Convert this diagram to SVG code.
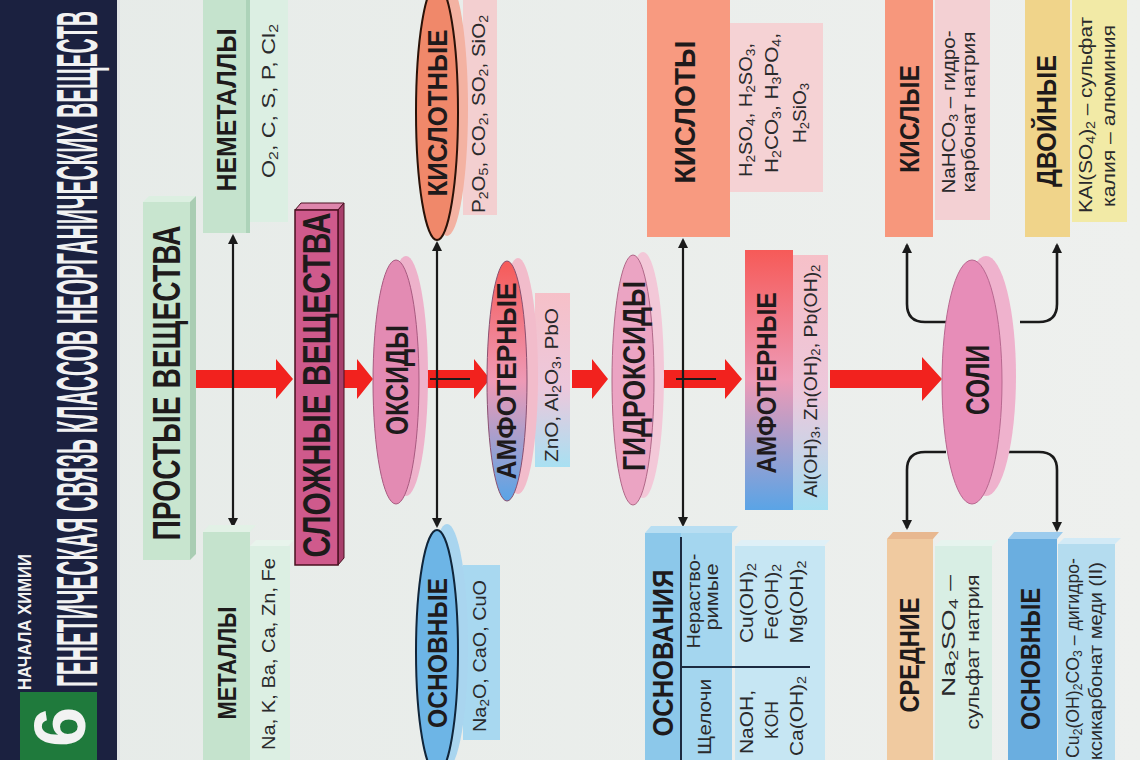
<svg xmlns="http://www.w3.org/2000/svg" width="1140" height="760" viewBox="0 0 1140 760">
<style>
.h{font-family:"Liberation Sans Narrow","Liberation Sans",Arial,sans-serif;font-weight:bold;fill:#1e1a1b;text-anchor:middle;dominant-baseline:central}
.f{font-family:"Liberation Sans Narrow","Liberation Sans",Arial,sans-serif;fill:#2a2a2c;text-anchor:middle;dominant-baseline:central;font-size:19px}
.s{font-size:13px}
.w{font-family:"Liberation Sans Narrow","Liberation Sans",Arial,sans-serif;font-weight:bold;fill:#f2f2f2;dominant-baseline:central}
.ra{fill:#f2221e}
.vl{stroke:#1a1a1a;stroke-width:2.2;fill:none;marker-start:url(#ah);marker-end:url(#ah)}
.cn{stroke:#1a1a1a;stroke-width:2.6;fill:none;marker-end:url(#ah)}
.dv{stroke:#1c2a40;stroke-width:2}
</style>
<defs>
<marker id="ah" viewBox="0 0 10 10" refX="8" refY="5" markerWidth="10" markerHeight="10" markerUnits="userSpaceOnUse" orient="auto-start-reverse"><path d="M0,0 L10,5 L0,10 z" fill="#1a1a1a"/></marker>
<linearGradient id="gA" x1="0" y1="0" x2="0" y2="1"><stop offset="0" stop-color="#f65a58"/><stop offset="0.5" stop-color="#ee9ab6"/><stop offset="1" stop-color="#5aa4e6"/></linearGradient>
<linearGradient id="gAs" x1="0" y1="0" x2="0" y2="1"><stop offset="0" stop-color="#f6c0c8"/><stop offset="0.55" stop-color="#ecc8dc"/><stop offset="1" stop-color="#a8e0f2"/></linearGradient>
<linearGradient id="bg" x1="0" y1="0" x2="1" y2="0"><stop offset="0" stop-color="#e6ebe8"/><stop offset="1" stop-color="#eef0ee"/></linearGradient>
</defs>
<rect x="0" y="0" width="1140" height="760" fill="url(#bg)"/>
<g id="header">
<rect x="0" y="0" width="118" height="760" fill="#1b2140"/>
<rect x="117" y="0" width="3" height="760" fill="#dfe4e6"/>
<rect x="20" y="692" width="77" height="68" fill="#1f7a3c"/>
<text class="w" transform="translate(60,727) rotate(-90)" text-anchor="middle" font-size="72">6</text>
<text class="w" transform="translate(24,690) rotate(-90)" text-anchor="start" font-size="19" textLength="136" lengthAdjust="spacingAndGlyphs">НАЧАЛА ХИМИИ</text>
<text class="w" transform="translate(77,687) rotate(-90) scale(0.35,1)" text-anchor="start" font-size="58" textLength="1931" lengthAdjust="spacingAndGlyphs">ГЕНЕТИЧЕСКАЯ СВЯЗЬ КЛАССОВ НЕОРГАНИЧЕСКИХ ВЕЩЕСТВ</text>
</g>
<g id="connectors">
<polygon class="ra" points="190,370 276,370 276,359 293,379 276,399 276,388 190,388"/>
<polygon class="ra" points="342,370 357,370 357,359 373,379 357,399 357,388 342,388"/>
<polygon class="ra" points="424,370 474,370 474,359 490,379 474,399 474,388 424,388"/>
<polygon class="ra" points="572,370 592,370 592,359 608,379 592,399 592,388 572,388"/>
<polygon class="ra" points="660,370 725,370 725,359 742,379 725,399 725,388 660,388"/>
<polygon class="ra" points="830,370 922,370 922,357 942,379 922,401 922,388 830,388"/>
<line x1="430" y1="379" x2="470" y2="379" stroke="#1a1a1a" stroke-width="2"/>
<line x1="676" y1="379" x2="716" y2="379" stroke="#1a1a1a" stroke-width="2"/>
<line class="vl" x1="233" y1="236" x2="233" y2="526"/>
<line class="vl" x1="437" y1="243" x2="437" y2="526"/>
<line class="vl" x1="683" y1="240" x2="683" y2="525"/>
<path class="cn" d="M947,322 H925 Q907,322 907,304 V245"/>
<path class="cn" d="M1020,322 H1039 Q1057,322 1057,304 V245"/>
<path class="cn" d="M946,452 H925 Q907,452 907,470 V528"/>
<path class="cn" d="M1004,452 H1039 Q1057,452 1057,470 V530"/>
</g>
<g id="prostye">
<polygon points="143,202 149,196 196,196 190,202" fill="#dcefe1"/>
<polygon points="190,202 196,196 196,554 190,560" fill="#a9cdb3"/>
<rect x="143" y="202" width="47" height="358" fill="#c8e5cf"/>
<text class="h" transform="translate(167,383) rotate(-90)" font-size="38" textLength="315" lengthAdjust="spacingAndGlyphs">ПРОСТЫЕ ВЕЩЕСТВА</text>
</g>
<g id="nemetally">
<rect x="250" y="0" width="38" height="222" fill="#dcefe3"/>
<rect x="203" y="0" width="47" height="233" fill="#c5e3cd"/>
<rect x="246" y="0" width="4" height="233" fill="#add3b9"/>
<text class="h" transform="translate(227,110) rotate(-90)" font-size="27" textLength="163" lengthAdjust="spacingAndGlyphs">НЕМЕТАЛЛЫ</text>
<text class="f" transform="translate(268,101) rotate(-90)" textLength="154" lengthAdjust="spacingAndGlyphs">O<tspan class="s" dy="5">2</tspan><tspan dy="-5">, C, S, P, Cl</tspan><tspan class="s" dy="5">2</tspan></text>
</g>
<g id="metally">
<polygon points="250,546 256,540 294,540 288,546" fill="#e8f4ec"/>
<rect x="250" y="546" width="40" height="214" fill="#dcefe3"/>
<polygon points="203,532 209,525 256,525 250,532" fill="#e2f1e6"/>
<rect x="203" y="532" width="47" height="228" fill="#c5e3cd"/>
<text class="h" transform="translate(227,663) rotate(-90)" font-size="26" textLength="113" lengthAdjust="spacingAndGlyphs">МЕТАЛЛЫ</text>
<text class="f" transform="translate(268,654) rotate(-90)" textLength="192" lengthAdjust="spacingAndGlyphs">Na, K, Ba, Ca, Zn, Fe</text>
</g>
<g id="slozhnye">
<polygon points="295,210 301,203 344,203 338,210" fill="#de86ac" stroke="#4a1020" stroke-width="1"/>
<polygon points="338,210 344,203 344,558 338,565" fill="#a8406c" stroke="#4a1020" stroke-width="1"/>
<rect x="295" y="210" width="43" height="355" fill="#cf5a8c" stroke="#4a1020" stroke-width="1.5"/>
<text class="h" transform="translate(317,385) rotate(-90)" font-size="38" textLength="345" lengthAdjust="spacingAndGlyphs">СЛОЖНЫЕ ВЕЩЕСТВА</text>
</g>
<g id="oksidy">
<ellipse cx="406" cy="376" rx="22" ry="120" fill="#eeb2cb"/>
<ellipse cx="396" cy="382" rx="23" ry="122" fill="#e38bb3" stroke="#a85a80" stroke-width="1"/>
<text class="h" transform="translate(397,380) rotate(-90)" font-size="32" textLength="110" lengthAdjust="spacingAndGlyphs">ОКСИДЫ</text>
</g>
<g id="kislotnye">
<rect x="463" y="0" width="34" height="215" fill="#f3cfd0"/>
<ellipse cx="447" cy="108" rx="21" ry="128" fill="#f3b2a2"/>
<ellipse cx="437" cy="112" rx="21" ry="128" fill="#f0886a" stroke="#2a1208" stroke-width="2"/>
<text class="h" transform="translate(438,113) rotate(-90)" font-size="27" textLength="167" lengthAdjust="spacingAndGlyphs">КИСЛОТНЫЕ</text>
<text class="f" transform="translate(478,114) rotate(-90)" textLength="198" lengthAdjust="spacingAndGlyphs">P<tspan class="s" dy="5">2</tspan><tspan dy="-5">O</tspan><tspan class="s" dy="5">5</tspan><tspan dy="-5">, CO</tspan><tspan class="s" dy="5">2</tspan><tspan dy="-5">, SO</tspan><tspan class="s" dy="5">2</tspan><tspan dy="-5">, SiO</tspan><tspan class="s" dy="5">2</tspan></text>
</g>
<g id="osnovnye-oksidy">
<rect x="463" y="565" width="37" height="175" fill="#a8d8f0"/>
<ellipse cx="447" cy="646" rx="21" ry="122" fill="#a9d5ef"/>
<ellipse cx="437" cy="652" rx="21" ry="122" fill="#6db5e6" stroke="#10253a" stroke-width="2"/>
<text class="h" transform="translate(438,653) rotate(-90)" font-size="27" textLength="150" lengthAdjust="spacingAndGlyphs">ОСНОВНЫЕ</text>
<text class="f" transform="translate(479,656) rotate(-90)" textLength="152" lengthAdjust="spacingAndGlyphs">Na<tspan class="s" dy="5">2</tspan><tspan dy="-5">O, CaO, CuO</tspan></text>
</g>
<g id="amfoternye-oksidy">
<rect x="535" y="293" width="35" height="174" fill="url(#gAs)"/>
<ellipse cx="518" cy="376" rx="20" ry="118" fill="#f2bccb"/>
<ellipse cx="507" cy="381" rx="20" ry="120" fill="url(#gA)" stroke="#8a5070" stroke-width="1"/>
<text class="h" transform="translate(507,381) rotate(-90)" font-size="27" textLength="197" lengthAdjust="spacingAndGlyphs">АМФОТЕРНЫЕ</text>
<text class="f" transform="translate(551,385) rotate(-90)" textLength="154" lengthAdjust="spacingAndGlyphs">ZnO, Al<tspan class="s" dy="5">2</tspan><tspan dy="-5">O</tspan><tspan class="s" dy="5">3</tspan><tspan dy="-5">, PbO</tspan></text>
</g>
<g id="gidroksidy">
<ellipse cx="643" cy="375" rx="21" ry="123" fill="#f3c8d8"/>
<ellipse cx="633" cy="380" rx="21" ry="125" fill="#eba4c3" stroke="#b06888" stroke-width="1"/>
<text class="h" transform="translate(634,376) rotate(-90)" font-size="32" textLength="190" lengthAdjust="spacingAndGlyphs">ГИДРОКСИДЫ</text>
</g>
<g id="kisloty">
<rect x="730" y="23" width="93" height="169" fill="#f5d2d4"/>
<rect x="647" y="0" width="83" height="237" fill="#f89a80"/>
<text class="h" transform="translate(684,112) rotate(-90)" font-size="30" textLength="143" lengthAdjust="spacingAndGlyphs">КИСЛОТЫ</text>
<text class="f" transform="translate(745,110) rotate(-90)" textLength="134" lengthAdjust="spacingAndGlyphs">H<tspan class="s" dy="5">2</tspan><tspan dy="-5">SO</tspan><tspan class="s" dy="5">4</tspan><tspan dy="-5">, H</tspan><tspan class="s" dy="5">2</tspan><tspan dy="-5">SO</tspan><tspan class="s" dy="5">3</tspan><tspan dy="-5">,</tspan></text>
<text class="f" transform="translate(771,103) rotate(-90)" textLength="140" lengthAdjust="spacingAndGlyphs">H<tspan class="s" dy="5">2</tspan><tspan dy="-5">CO</tspan><tspan class="s" dy="5">3</tspan><tspan dy="-5">, H</tspan><tspan class="s" dy="5">3</tspan><tspan dy="-5">PO</tspan><tspan class="s" dy="5">4</tspan><tspan dy="-5">,</tspan></text>
<text class="f" transform="translate(799,113) rotate(-90)" textLength="60" lengthAdjust="spacingAndGlyphs">H<tspan class="s" dy="5">2</tspan><tspan dy="-5">SiO</tspan><tspan class="s" dy="5">3</tspan></text>
</g>
<g id="osnovaniya">
<polygon points="735,546 741,540 830,540 824,546" fill="#dff0f7"/>
<rect x="735" y="546" width="90" height="214" fill="#c6e6f3"/>
<polygon points="645,533 651,526 738,526 732,533" fill="#b8def2"/>
<rect x="645" y="533" width="87" height="227" fill="#8cc8ea"/>
<rect x="681" y="533" width="51" height="227" fill="#a4d6ef"/>
<line class="dv" x1="681" y1="537" x2="681" y2="760"/>
<line class="dv" x1="681" y1="667" x2="810" y2="667"/>
<text class="h" transform="translate(662,653) rotate(-90)" font-size="30" textLength="167" lengthAdjust="spacingAndGlyphs">ОСНОВАНИЯ</text>
<text class="f" transform="translate(693,601) rotate(-90)" textLength="95" lengthAdjust="spacingAndGlyphs">Нераство-</text>
<text class="f" transform="translate(711,597) rotate(-90)" textLength="67" lengthAdjust="spacingAndGlyphs">римые</text>
<text class="f" transform="translate(704,717) rotate(-90)" textLength="76" lengthAdjust="spacingAndGlyphs" fill="#3a4a60">Щелочи</text>
<text class="f" transform="translate(746,603) rotate(-90)" textLength="80" lengthAdjust="spacingAndGlyphs">Cu(OH)<tspan class="s" dy="5">2</tspan></text>
<text class="f" transform="translate(771,602) rotate(-90)" textLength="76" lengthAdjust="spacingAndGlyphs">Fe(OH)<tspan class="s" dy="5">2</tspan></text>
<text class="f" transform="translate(796,602) rotate(-90)" textLength="83" lengthAdjust="spacingAndGlyphs">Mg(OH)<tspan class="s" dy="5">2</tspan></text>
<text class="f" transform="translate(746,722) rotate(-90)" textLength="64" lengthAdjust="spacingAndGlyphs">NaOH,</text>
<text class="f" transform="translate(771,720) rotate(-90)" textLength="38" lengthAdjust="spacingAndGlyphs">KOH</text>
<text class="f" transform="translate(796,716) rotate(-90)" textLength="80" lengthAdjust="spacingAndGlyphs">Ca(OH)<tspan class="s" dy="5">2</tspan></text>
</g>
<g id="amfoternye-gidroksidy">
<rect x="793" y="255" width="35" height="255" fill="url(#gAs)"/>
<rect x="745" y="250" width="48" height="260" fill="url(#gA)"/>
<text class="h" transform="translate(767,383) rotate(-90)" font-size="27" textLength="181" lengthAdjust="spacingAndGlyphs">АМФОТЕРНЫЕ</text>
<text class="f" transform="translate(810,381) rotate(-90)" textLength="233" lengthAdjust="spacingAndGlyphs">Al(OH)<tspan class="s" dy="5">3</tspan><tspan dy="-5">, Zn(OH)</tspan><tspan class="s" dy="5">2</tspan><tspan dy="-5">, Pb(OH)</tspan><tspan class="s" dy="5">2</tspan></text>
</g>
<g id="soli">
<ellipse cx="986" cy="376" rx="30" ry="120" fill="#efb2cd"/>
<ellipse cx="972" cy="382" rx="30" ry="122" fill="#e78db8" stroke="#b86890" stroke-width="1"/>
<text class="h" transform="translate(977,380) rotate(-90)" font-size="34" textLength="70" lengthAdjust="spacingAndGlyphs">СОЛИ</text>
</g>
<g id="kislye">
<rect x="935" y="0" width="55" height="220" fill="#f3d0d3"/>
<rect x="885" y="0" width="48" height="237" fill="#f7977c"/>
<text class="h" transform="translate(910,119) rotate(-90)" font-size="27" textLength="108" lengthAdjust="spacingAndGlyphs">КИСЛЫЕ</text>
<text class="f" transform="translate(948,112) rotate(-90)" textLength="163" lengthAdjust="spacingAndGlyphs">NaHCO<tspan class="s" dy="5">3</tspan><tspan dy="-5"> – гидро-</tspan></text>
<text class="f" transform="translate(968,112) rotate(-90)" textLength="161" lengthAdjust="spacingAndGlyphs">карбонат натрия</text>
</g>
<g id="dvoynye">
<rect x="1072" y="0" width="55" height="222" fill="#f2eaa6"/>
<rect x="1025" y="0" width="45" height="237" fill="#f0d48a"/>
<text class="h" transform="translate(1047,121) rotate(-90)" font-size="27" textLength="132" lengthAdjust="spacingAndGlyphs">ДВОЙНЫЕ</text>
<text class="f" transform="translate(1085,115) rotate(-90)" textLength="196" lengthAdjust="spacingAndGlyphs">KAl(SO<tspan class="s" dy="5">4</tspan><tspan dy="-5">)</tspan><tspan class="s" dy="5">2</tspan><tspan dy="-5"> – сульфат</tspan></text>
<text class="f" transform="translate(1108,116) rotate(-90)" textLength="182" lengthAdjust="spacingAndGlyphs">калия – алюминия</text>
</g>
<g id="srednie">
<polygon points="935,546 941,540 998,540 992,546" fill="#e6f4ee"/>
<rect x="935" y="546" width="57" height="214" fill="#d8eee4"/>
<polygon points="887,539 893,532 939,532 933,539" fill="#e8b890"/>
<rect x="887" y="539" width="46" height="221" fill="#f0caa0"/>
<text class="h" transform="translate(910,655) rotate(-90)" font-size="27" textLength="115" lengthAdjust="spacingAndGlyphs">СРЕДНИЕ</text>
<text class="f" transform="translate(948,636) rotate(-90)" textLength="122" lengthAdjust="spacingAndGlyphs">Na<tspan class="s" dy="5">2</tspan><tspan dy="-5">SO</tspan><tspan class="s" dy="5">4</tspan><tspan dy="-5"> –</tspan></text>
<text class="f" transform="translate(972,652) rotate(-90)" textLength="155" lengthAdjust="spacingAndGlyphs">сульфат натрия</text>
</g>
<g id="osnovnye-soli">
<polygon points="1058,544 1064,538 1121,538 1115,544" fill="#d2eaf6"/>
<rect x="1058" y="544" width="57" height="216" fill="#b4dcef"/>
<polygon points="1008,539 1014,532 1063,532 1057,539" fill="#9ccbed"/>
<rect x="1008" y="539" width="49" height="221" fill="#6aaee0"/>
<text class="h" transform="translate(1031,659) rotate(-90)" font-size="27" textLength="142" lengthAdjust="spacingAndGlyphs">ОСНОВНЫЕ</text>
<text class="f" transform="translate(1072,658) rotate(-90)" textLength="200" lengthAdjust="spacingAndGlyphs">Cu<tspan class="s" dy="5">2</tspan><tspan dy="-5">(OH)</tspan><tspan class="s" dy="5">2</tspan><tspan dy="-5">CO</tspan><tspan class="s" dy="5">3</tspan><tspan dy="-5"> – дигидро-</tspan></text>
<text class="f" transform="translate(1095,661) rotate(-90)" textLength="198" lengthAdjust="spacingAndGlyphs">ксикарбонат меди (II)</text>
</g>
</svg>
